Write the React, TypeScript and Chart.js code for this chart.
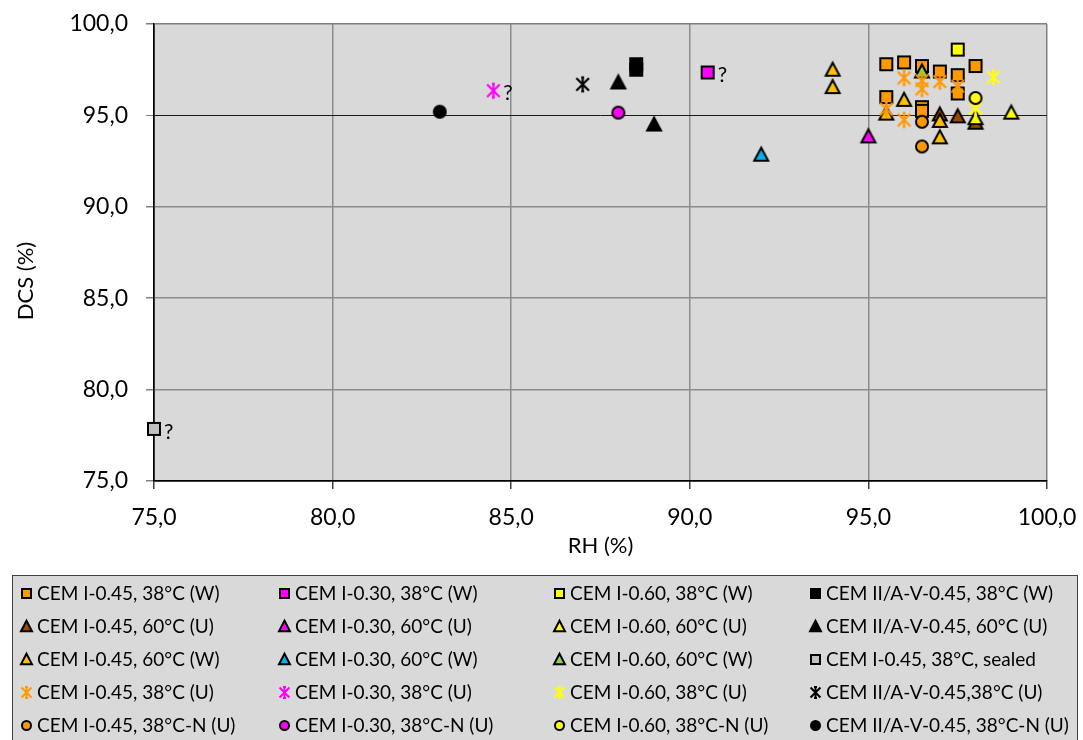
import React, { useEffect, useRef } from 'react';
import { Chart, registerables } from 'chart.js';

Chart.register(...registerables);

// ---------- data: [RH %, DCS %] per series ----------
const CEM045_38_W: [number, number][] = [
  [95.5, 97.8], [96.0, 97.9], [96.5, 97.7], [97.0, 97.4], [97.5, 97.2], [98.0, 97.7],
  [97.5, 96.2], [95.5, 96.0], [96.5, 95.45], [96.5, 95.25],
];
const CEM030_38_W: [number, number][] = [[90.5, 97.35]];
const CEM060_38_W: [number, number][] = [[97.5, 98.6]];
const CEMII_38_W: [number, number][] = [[88.5, 97.8], [88.5, 97.5]];
const CEM045_60_U: [number, number][] = [[97.0, 95.05], [97.5, 94.95], [98.0, 94.6]];
const CEM030_60_U: [number, number][] = [[95.0, 93.85]];
const CEM060_60_U: [number, number][] = [[98.0, 94.85], [99.0, 95.15]];
const CEMII_60_U: [number, number][] = [[88.0, 96.8], [89.0, 94.5]];
const CEM045_60_W: [number, number][] = [
  [94.0, 97.5], [94.0, 96.55], [95.5, 95.1], [96.0, 95.85], [97.0, 94.7], [97.0, 93.8],
];
const CEM030_60_W: [number, number][] = [[92.0, 92.85]];
const CEM060_60_W: [number, number][] = [[96.5, 97.4]];
const CEM045_38_SEALED: [number, number][] = [[75.0, 77.85]];
const CEM045_38_U: [number, number][] = [
  [96.0, 97.05], [96.5, 96.9], [96.5, 96.45], [97.0, 96.85], [97.5, 96.6], [95.5, 95.35], [96.0, 94.75],
];
const CEM030_38_U: [number, number][] = [[84.5, 96.35]];
const CEM060_38_U: [number, number][] = [[98.5, 97.1], [98.0, 95.4]];
const CEMII_38_U: [number, number][] = [[87.0, 96.7]];
const CEM045_38N_U: [number, number][] = [[96.5, 94.65], [96.5, 93.3]];
const CEM030_38N_U: [number, number][] = [[88.0, 95.15]];
const CEM060_38N_U: [number, number][] = [[98.0, 95.95]];
const CEMII_38N_U: [number, number][] = [[83.0, 95.2]];

const SERIES_LABELS = [
  'CEM I-0.45, 38°C (W)', 'CEM I-0.30, 38°C (W)', 'CEM I-0.60, 38°C (W)', 'CEM II/A-V-0.45, 38°C (W)',
  'CEM I-0.45, 60°C (U)', 'CEM I-0.30, 60°C (U)', 'CEM I-0.60, 60°C (U)', 'CEM II/A-V-0.45, 60°C (U)',
  'CEM I-0.45, 60°C (W)', 'CEM I-0.30, 60°C (W)', 'CEM I-0.60, 60°C (W)', 'CEM I-0.45, 38°C, sealed',
  'CEM I-0.45, 38°C (U)', 'CEM I-0.30, 38°C (U)', 'CEM I-0.60, 38°C (U)', 'CEM II/A-V-0.45,38°C (U)',
  'CEM I-0.45, 38°C-N (U)', 'CEM I-0.30, 38°C-N (U)', 'CEM I-0.60, 38°C-N (U)', 'CEM II/A-V-0.45, 38°C-N (U)',
];
const SERIES_DATA = [
  CEM045_38_W, CEM030_38_W, CEM060_38_W, CEMII_38_W,
  CEM045_60_U, CEM030_60_U, CEM060_60_U, CEMII_60_U,
  CEM045_60_W, CEM030_60_W, CEM060_60_W, CEM045_38_SEALED,
  CEM045_38_U, CEM030_38_U, CEM060_38_U, CEMII_38_U,
  CEM045_38N_U, CEM030_38N_U, CEM060_38N_U, CEMII_38N_U,
];
// points annotated with "?" : [series index, point index]
const QUESTION_MARKS: [number, number][] = [[1, 0], [11, 0], [13, 0]];

const X_TICKS = [75, 80, 85, 90, 95, 100];
const Y_TICKS = [75, 80, 85, 90, 95, 100];

// ---------- styles ----------
type Shape = 'square' | 'triangle' | 'circle' | 'star';
const SERIES_STYLE: { shape: Shape; fill: string; stroke: string }[] = [
  { shape: 'square', fill: '#FF9900', stroke: '#000' },
  { shape: 'square', fill: '#FF00FF', stroke: '#000' },
  { shape: 'square', fill: '#FFFF00', stroke: '#000' },
  { shape: 'square', fill: '#000', stroke: '#000' },
  { shape: 'triangle', fill: '#994C00', stroke: '#000' },
  { shape: 'triangle', fill: '#FF00FF', stroke: '#000' },
  { shape: 'triangle', fill: '#FFFF00', stroke: '#000' },
  { shape: 'triangle', fill: '#000', stroke: '#000' },
  { shape: 'triangle', fill: '#FFC000', stroke: '#000' },
  { shape: 'triangle', fill: '#00B0F0', stroke: '#000' },
  { shape: 'triangle', fill: '#92D050', stroke: '#000' },
  { shape: 'square', fill: '#C0C0C0', stroke: '#000' },
  { shape: 'star', fill: '#FF9900', stroke: '#FF9900' },
  { shape: 'star', fill: '#FF00FF', stroke: '#FF00FF' },
  { shape: 'star', fill: '#FFFF00', stroke: '#FFFF00' },
  { shape: 'star', fill: '#000', stroke: '#000' },
  { shape: 'circle', fill: '#FF9900', stroke: '#000' },
  { shape: 'circle', fill: '#FF00FF', stroke: '#000' },
  { shape: 'circle', fill: '#FFFF00', stroke: '#000' },
  { shape: 'circle', fill: '#000', stroke: '#000' },
];

const FONT = 'Lato, "Noto Sans", sans-serif';

function makeMarker(shape: Shape, fill: string, stroke: string, size: number, lw: number) {
  const c = document.createElement('canvas');
  const dim = Math.ceil(size + lw * 2 + 2);
  c.width = dim;
  c.height = dim;
  const ctx = c.getContext('2d')!;
  const m = dim / 2;
  const h = size / 2;
  ctx.lineWidth = lw;
  ctx.strokeStyle = stroke;
  ctx.fillStyle = fill;
  ctx.lineJoin = 'miter';
  ctx.beginPath();
  if (shape === 'square') {
    ctx.rect(m - h, m - h, size, size);
    ctx.fill();
    ctx.stroke();
  } else if (shape === 'triangle') {
    const ht = size * 0.87;
    ctx.moveTo(m, m - ht / 2 - 1);
    ctx.lineTo(m + h, m + ht / 2);
    ctx.lineTo(m - h, m + ht / 2);
    ctx.closePath();
    ctx.fill();
    ctx.stroke();
  } else if (shape === 'circle') {
    ctx.arc(m, m, h, 0, Math.PI * 2);
    ctx.fill();
    ctx.stroke();
  } else {
    const d = h * 0.9;
    const cap = 1.5;
    ctx.moveTo(m, m - h); ctx.lineTo(m, m + h);
    ctx.moveTo(m - d, m - d); ctx.lineTo(m + d, m + d);
    ctx.moveTo(m + d, m - d); ctx.lineTo(m - d, m + d);
    ctx.moveTo(m - cap, m - h); ctx.lineTo(m + cap, m - h);
    ctx.moveTo(m - cap, m + h); ctx.lineTo(m + cap, m + h);
    ctx.stroke();
  }
  return c;
}

function chartMarker(i: number) {
  const s = SERIES_STYLE[i];
  const size = s.shape === 'triangle' ? 14 : s.shape === 'star' ? 14 : 12;
  return makeMarker(s.shape, s.fill, s.stroke, size, s.shape === 'star' ? 2.2 : 2);
}
function legendMarker(i: number) {
  const s = SERIES_STYLE[i];
  const size = s.shape === 'triangle' ? 11 : s.shape === 'star' ? 11 : 9;
  return makeMarker(s.shape, s.fill, s.stroke, size, 2);
}

const fmt = (v: number) => v.toFixed(1).replace('.', ',');

export default function App() {
  const ref = useRef<HTMLCanvasElement | null>(null);

  useEffect(() => {
    document.body.style.margin = '0';
    const canvas = ref.current!;
    const n = SERIES_DATA.length;

    const datasets = SERIES_DATA.map((pts, i) => ({
      label: SERIES_LABELS[i],
      data: pts.map(([x, y]) => ({ x, y })),
      pointStyle: chartMarker(i),
      showLine: false,
      clip: false as any,
      order: n - i,
    }));

    const bgPlugin = {
      id: 'bg',
      beforeDraw(chart: any) {
        const { ctx, chartArea: a, width, height } = chart;
        ctx.save();
        ctx.fillStyle = '#FFFFFF';
        ctx.fillRect(0, 0, width, height);
        ctx.fillStyle = '#D9D9D9';
        ctx.fillRect(a.left, a.top, a.right - a.left, a.bottom - a.top);
        ctx.restore();
      },
    };

    const textPlugin = {
      id: 'texts',
      afterDatasetsDraw(chart: any) {
        const { ctx, chartArea: a } = chart;
        ctx.save();
        ctx.fillStyle = '#000';
        ctx.font = `21px ${FONT}`;
        ctx.textAlign = 'left';
        ctx.textBaseline = 'middle';
        QUESTION_MARKS.forEach(([si, pi]) => {
          const el = chart.getDatasetMeta(si).data[pi];
          ctx.fillText('?', el.x + 10, el.y + 3);
        });
        // axis titles
        ctx.font = `22px ${FONT}`;
        ctx.textAlign = 'center';
        ctx.fillText('RH (%)', (a.left + a.right) / 2, 546);
        ctx.translate(26, 281);
        ctx.rotate(-Math.PI / 2);
        ctx.fillText('DCS (%)', 0, 0);
        ctx.restore();
      },
    };

    const legendPlugin = {
      id: 'customLegend',
      afterDraw(chart: any) {
        const { ctx } = chart;
        ctx.save();
        ctx.fillStyle = '#D9D9D9';
        ctx.fillRect(13, 575, 1065, 170);
        ctx.strokeStyle = '#404040';
        ctx.lineWidth = 1;
        ctx.strokeRect(12.5, 575.5, 1065, 170);
        const colX = [26, 284, 559, 815];
        const rowY = [593, 626, 659, 692, 725];
        ctx.font = `19px ${FONT}`;
        ctx.textAlign = 'left';
        ctx.textBaseline = 'middle';
        ctx.fillStyle = '#000';
        SERIES_LABELS.forEach((lab, i) => {
          const cx = colX[i % 4];
          const cy = rowY[Math.floor(i / 4)];
          const mk = legendMarker(i);
          ctx.drawImage(mk, Math.round(cx - mk.width / 2), Math.round(cy - mk.height / 2));
          ctx.fillText(lab, cx + 11, cy + 1);
        });
        ctx.restore();
      },
    };

    const gridColor = (v: number, axisVal: number) => {
      if (v === axisVal) return '#000000';
      if (v === 100) return '#808080';
      return '#8C8C8C';
    };
    const zeroPad = (s: any) => {
      s.paddingTop = 0;
      s.paddingBottom = 0;
      s.paddingLeft = 0;
      s.paddingRight = 0;
    };

    const chart = new Chart(canvas, {
      type: 'scatter',
      data: { datasets },
      plugins: [bgPlugin, textPlugin, legendPlugin],
      options: {
        responsive: false,
        animation: false,
        layout: { padding: { left: 0, top: 24, right: 36, bottom: 740 - 481 - 70 } },
        plugins: { legend: { display: false }, tooltip: { enabled: false } },
        scales: {
          x: {
            type: 'linear',
            min: 75,
            max: 100,
            afterBuildTicks: (s: any) => { s.ticks = X_TICKS.map((v) => ({ value: v })); },
            afterFit: (s: any) => { s.height = 70; zeroPad(s); },
            ticks: {
              callback: (v: any) => fmt(Number(v)),
              font: { family: FONT, size: 23 },
              color: '#000',
              padding: 15,
              maxRotation: 0,
            },
            grid: {
              color: (c: any) => gridColor(c.tick?.value, 75),
              lineWidth: 1.5,
              tickColor: '#404040',
              tickLength: 8,
            },
            border: { color: '#000', width: 1.5 },
          },
          y: {
            type: 'linear',
            min: 75,
            max: 100,
            afterBuildTicks: (s: any) => { s.ticks = Y_TICKS.map((v) => ({ value: v })); },
            afterFit: (s: any) => { s.width = 154; zeroPad(s); },
            ticks: {
              callback: (v: any) => fmt(Number(v)),
              font: { family: FONT, size: 23 },
              color: '#000',
              padding: 18,
            },
            grid: {
              color: (c: any) => (c.tick?.value === 95 ? '#1A1A1A' : gridColor(c.tick?.value, 75)),
              lineWidth: (c: any) => (c.tick?.value === 95 ? 1 : 1.5),
              tickColor: '#808080',
              tickLength: 8,
            },
            border: { color: '#000', width: 1.5 },
          },
        },
      },
    } as any);

    return () => chart.destroy();
  }, []);

  return (
    <div style={{ width: 1083, height: 740 }}>
      <canvas ref={ref} width={1083} height={740} style={{ display: 'block' }} />
    </div>
  );
}
